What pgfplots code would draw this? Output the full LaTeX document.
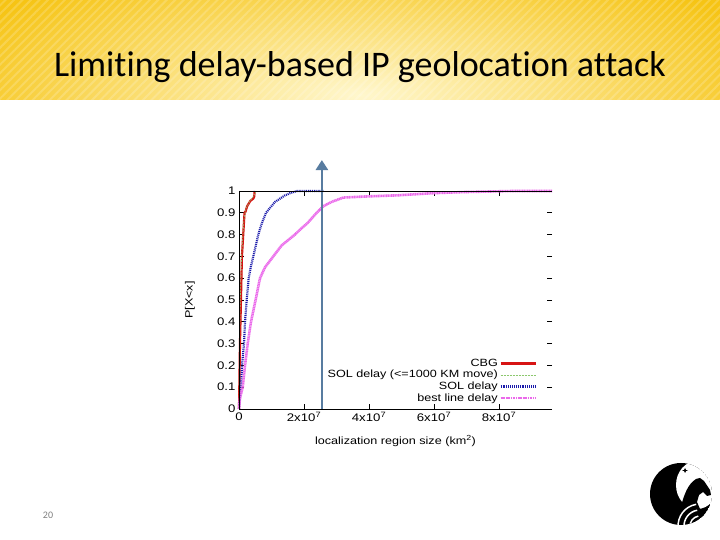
\documentclass[border=0pt]{standalone}
\usepackage{pgfplots}
\pgfplotsset{compat=1.18}
\usepackage{fontspec}
\setmainfont{Liberation Sans}
\newfontfamily\gp[FakeStretch=1.2]{Liberation Sans}
\newfontfamily\carlito[Ligatures={NoCommon}]{Carlito}
\usetikzlibrary{patterns.meta,arrows.meta}
\definecolor{hdrgold}{RGB}{246,196,20}
\definecolor{hdrlight}{RGB}{255,247,205}
\definecolor{cbgred}{RGB}{215,20,20}
\definecolor{solgreen}{RGB}{140,200,110}
\definecolor{solblue}{RGB}{25,25,170}
\definecolor{bestmag}{RGB}{235,105,235}
\definecolor{arrowblue}{RGB}{88,124,160}
\begin{document}
\begin{tikzpicture}[x=1pt,y=1pt]
\useasboundingbox (0,0) rectangle (720,540);
\fill[white] (0,0) rectangle (720,540);
% header band
\begin{scope}
\clip (0,440) rectangle (720,540);
\shade[inner color=hdrlight, outer color=hdrgold] (-80,300) rectangle (800,590);
\fill[pattern={Lines[angle=45,distance=6pt,line width=2pt]}, pattern color=white, opacity=0.18] (0,440) rectangle (720,540);
\end{scope}
\node[font=\carlito\fontsize{36}{40}\selectfont, anchor=base] at (360,463) {Limiting delay-based IP geolocation attack};
\node[font=\carlito\fontsize{10}{12}\selectfont, text=gray] at (48,25) {20};
% logo (rough)
\begin{scope}
\clip (681,46) circle (31);
\fill[black] (681,46) circle (31);
\fill[white] (697,55) ellipse (21 and 24);
\fill[black] (680,30) .. controls (684,46) and (688,56) .. (696,61) -- (700,62) -- (704,59) -- (710,50) -- (711,45) -- (707,44) -- (703,48) -- (699,45) -- (697,38) -- (700,31) -- (706,24) -- (699,22) -- (690,26) -- cycle;
\foreach \r in {10,16,22} {\draw[white, line width=1.5pt] (700,14) ++(100:\r) arc (100:185:\r);}
\end{scope}
\fill[black] (685,72) -- (686,70) -- (688,69.5) -- (686,69) -- (685,67) -- (684,69) -- (682,69.5) -- (684,70) -- cycle;
\begin{axis}[at={(239pt,131pt)}, anchor=south west, scale only axis,
  width=313pt, height=218pt,
  xmin=0, xmax=9.63e7, ymin=0, ymax=1,
  clip=false, scaled x ticks=false,
  axis line style={draw=none},
  tick align=inside, tick pos=both,
  major tick length=5pt,
  tick style={black, line width=0.6pt},
  xtick={0,2e7,4e7,6e7,8e7},
  xticklabels={0,2x10\textsuperscript{7},4x10\textsuperscript{7},6x10\textsuperscript{7},8x10\textsuperscript{7}},
  ytick={0,0.1,0.2,0.3,0.4,0.5,0.6,0.7,0.8,0.9,1},
  yticklabels={0,0.1,0.2,0.3,0.4,0.5,0.6,0.7,0.8,0.9,1},
  ticklabel style={font=\gp\fontsize{11}{12}\selectfont},
  ylabel={P[X<x]}, xlabel={localization region size (km\textsuperscript{2})},
  label style={font=\gp\fontsize{10.5}{12}\selectfont},
  ylabel style={at={(axis description cs:-0.157,0.5)}, anchor=center},
  xlabel style={at={(axis description cs:0.5,-0.147)}, anchor=center},
  legend style={at={(rel axis cs:0.962,0.012)}, anchor=south east, draw=none, fill=none,
    font=\gp\fontsize{10.5}{11}\selectfont, row sep=-0.5pt, nodes={inner sep=1.5pt}},
  legend cell align=right,
  legend plot pos=right,
  legend image code/.code={\draw[#1] (0pt,0pt) -- (35pt,0pt);},
]
\addplot[cbgred, line width=2.2pt] coordinates {
(0,0) (0.01e7,0.1) (0.03e7,0.3) (0.06e7,0.5) (0.09e7,0.7) (0.13e7,0.8) (0.17e7,0.9) (0.2e7,0.905) (0.25e7,0.93) (0.35e7,0.955) (0.44e7,0.965) (0.47e7,0.975) (0.48e7,1)};
\addlegendentry{CBG}
\addplot[solgreen, line width=0.6pt, dash pattern=on 2pt off 1pt] coordinates {
(0,0) (0.005e7,0.1) (0.02e7,0.3) (0.04e7,0.5) (0.08e7,0.7) (0.12e7,0.8) (0.16e7,0.88) (0.22e7,0.92) (0.32e7,0.95) (0.42e7,0.97) (0.5e7,0.99) (0.53e7,1)};
\addlegendentry{SOL delay (<=1000 KM move)}
\addplot[solblue, line width=2.2pt, dash pattern=on 1pt off 0.9pt] coordinates {
(0,0) (0.03e7,0.05) (0.062e7,0.1) (0.092e7,0.2) (0.154e7,0.3) (0.185e7,0.4) (0.237e7,0.5) (0.298e7,0.6) (0.36e7,0.65) (0.44e7,0.7) (0.594e7,0.8) (0.698e7,0.85) (0.83e7,0.9) (1.108e7,0.95) (1.415e7,0.98) (1.57e7,0.99) (1.785e7,1) (2.6e7,1)};
\addlegendentry{SOL delay}
\addplot[bestmag, line width=2.6pt, dash pattern=on 1.2pt off 0.5pt] coordinates {
(0,0) (0.03e7,0.05) (0.114e7,0.1) (0.185e7,0.2) (0.268e7,0.3) (0.369e7,0.4) (0.44e7,0.45) (0.51e7,0.5) (0.646e7,0.6) (0.8e7,0.65) (1.055e7,0.7) (1.31e7,0.75) (1.72e7,0.8) (1.93e7,0.83) (2.09e7,0.85) (2.39e7,0.9) (2.59e7,0.93) (2.85e7,0.95) (3.21e7,0.97) (3.93e7,0.975) (4.85e7,0.98) (5.97e7,0.99) (6.89e7,0.995) (8.43e7,1) (9.63e7,1)};
\addlegendentry{best line delay}
\addplot[arrowblue, line width=2.6pt, -{Triangle[length=10pt,width=12pt]}, forget plot] coordinates {(2.55e7,0) (2.55e7,1.142)};
\draw[black, line width=0.8pt] (rel axis cs:0,1) -- (rel axis cs:0,0) -- (rel axis cs:1,0);
\draw[black, line width=0.8pt] (rel axis cs:0,1) -- (rel axis cs:1,1);
\end{axis}
\end{tikzpicture}
\end{document}
